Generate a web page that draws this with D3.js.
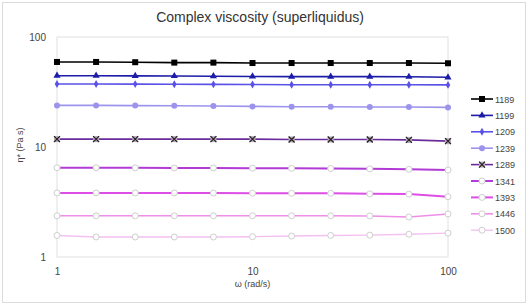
<!DOCTYPE html>
<html>
<head>
<meta charset="utf-8">
<script src="https://cdn.jsdelivr.net/npm/d3@7"></script>
<style>
  body { margin: 0; background: #fff; }
  svg { font-family: "Liberation Sans", Arial, sans-serif; }
</style>
</head>
<body>
<svg id="chart" width="529" height="305"></svg>
<script>
// frequency points (rad/s), 5 per decade
const omega = [1, 1.585, 2.512, 3.981, 6.31, 10, 15.85, 25.12, 39.81, 63.1, 100];

const temps = ["1189", "1199", "1209", "1239", "1289", "1341", "1393", "1446", "1500"];

// complex viscosity (Pa s)
const v1189 = [59.3, 59.3, 59.0, 58.5, 58.5, 58.0, 58.0, 58.0, 58.0, 58.0, 57.7];
const v1199 = [44.5, 44.5, 44.3, 44.2, 44.0, 43.8, 43.6, 43.6, 43.6, 43.5, 43.0];
const v1209 = [37.4, 37.4, 37.3, 37.2, 37.1, 37.0, 36.8, 36.8, 36.8, 36.8, 36.7];
const v1239 = [23.9, 23.9, 23.8, 23.7, 23.6, 23.4, 23.2, 23.2, 23.1, 23.1, 22.9];
const v1289 = [11.8, 11.8, 11.8, 11.8, 11.8, 11.8, 11.7, 11.7, 11.7, 11.6, 11.3];
const v1341 = [6.48, 6.48, 6.46, 6.45, 6.45, 6.42, 6.40, 6.38, 6.33, 6.27, 6.18];
const v1393 = [3.82, 3.82, 3.82, 3.82, 3.81, 3.80, 3.79, 3.79, 3.75, 3.73, 3.53];
const v1446 = [2.37, 2.37, 2.37, 2.37, 2.37, 2.37, 2.37, 2.37, 2.36, 2.31, 2.46];
const v1500 = [1.57, 1.52, 1.52, 1.52, 1.52, 1.53, 1.55, 1.57, 1.58, 1.61, 1.65];

const xTicks = [1, 10, 100];
const yTicks = [1, 10, 100];

const values = [v1189, v1199, v1209, v1239, v1289, v1341, v1393, v1446, v1500];
const colors = ["#000000", "#1c1ca8", "#5a52e6", "#9c94ec", "#6a2c9c", "#b23ad6", "#dc4ee6", "#ee8ee8", "#f4c0f2"];
const symbols = ["square", "triangle", "plus", "circle", "cross", "open", "open", "open", "open"];
const widths = [1.6, 1.6, 1.6, 1.6, 1.6, 2, 2, 1.6, 1.4];

const svg = d3.select("#chart");
const margin = { left: 57, top: 37, right: 81, bottom: 48 };
const W = 529, H = 305;
const iw = W - margin.left - margin.right;
const ih = H - margin.top - margin.bottom;

// outer frame
svg.append("rect")
  .attr("x", 2.5).attr("y", 2.5)
  .attr("width", W - 6).attr("height", H - 5)
  .attr("fill", "#fff").attr("stroke", "#dcdcdc");

svg.append("text")
  .attr("x", 260).attr("y", 22)
  .attr("text-anchor", "middle")
  .attr("font-size", 14).attr("fill", "#333")
  .text("Complex viscosity (superliquidus)");

const x = d3.scaleLog().domain([1, 100]).range([0, iw]);
const y = d3.scaleLog().domain([1, 100]).range([ih, 0]);

const g = svg.append("g").attr("transform", `translate(${margin.left},${margin.top})`);

g.append("rect")
  .attr("width", iw).attr("height", ih)
  .attr("fill", "none").attr("stroke", "#e0e0e0");

const axisX = g.append("g")
  .attr("transform", `translate(0,${ih + 8})`)
  .call(d3.axisBottom(x).tickValues(xTicks).tickFormat(d3.format("d")).tickSize(0));
const axisY = g.append("g")
  .attr("transform", `translate(-8,0)`)
  .call(d3.axisLeft(y).tickValues(yTicks).tickFormat(d3.format("d")).tickSize(0));

[axisX, axisY].forEach(a => {
  a.select(".domain").remove();
  a.selectAll("text").attr("font-size", 10).attr("fill", "#444")
    .attr("font-family", "Liberation Sans, Arial, sans-serif");
});

svg.append("text")
  .attr("x", margin.left + iw / 2).attr("y", 287)
  .attr("text-anchor", "middle").attr("font-size", 9).attr("fill", "#444")
  .text("ω (rad/s)");

svg.append("text")
  .attr("transform", "translate(23,145) rotate(-90)")
  .attr("text-anchor", "middle").attr("font-size", 9).attr("fill", "#444")
  .text("η* (Pa s)");

function drawMarker(sel, kind, color) {
  if (kind === "square") {
    sel.append("rect").attr("x", -3).attr("y", -3).attr("width", 6).attr("height", 6).attr("fill", color);
  } else if (kind === "triangle") {
    sel.append("path").attr("d", d3.symbol(d3.symbolTriangle, 22)()).attr("fill", color);
  } else if (kind === "plus") {
    sel.append("path").attr("d", d3.symbol(d3.symbolDiamond, 18)()).attr("fill", color);
  } else if (kind === "circle") {
    sel.append("circle").attr("r", 3).attr("fill", color);
  } else if (kind === "cross") {
    sel.append("rect").attr("x", -3).attr("y", -3).attr("width", 6).attr("height", 6)
      .attr("fill", "#b8a8b8");
    sel.append("path").attr("d", "M-3,-3L3,3M-3,3L3,-3").attr("stroke", "#222").attr("stroke-width", 1.2);
  } else {
    sel.append("circle").attr("r", 3).attr("fill", "#fff").attr("stroke", "#cfcfcf").attr("stroke-width", 1);
  }
}

const line = d3.line().x((d, i) => x(omega[i])).y(d => y(d));

temps.forEach((t, k) => {
  const s = g.append("g");
  s.append("path")
    .datum(values[k])
    .attr("d", line)
    .attr("fill", "none")
    .attr("stroke", colors[k])
    .attr("stroke-width", widths[k]);
  s.selectAll("g.pt")
    .data(values[k])
    .join("g")
    .attr("class", "pt")
    .attr("transform", (d, i) => `translate(${x(omega[i])},${y(d)})`)
    .each(function () { drawMarker(d3.select(this), symbols[k], colors[k]); });
});

// legend
const leg = svg.append("g").attr("transform", "translate(471,99)");
temps.forEach((t, k) => {
  const r = leg.append("g").attr("transform", `translate(0,${k * 16.4})`);
  r.append("line").attr("x1", 0).attr("x2", 22)
    .attr("stroke", colors[k]).attr("stroke-width", widths[k]);
  drawMarker(r.append("g").attr("transform", "translate(11,0)"), symbols[k], colors[k]);
  r.append("text").attr("x", 24).attr("y", 3.5)
    .attr("font-size", 9).attr("fill", "#444").text(t);
});
</script>
</body>
</html>
